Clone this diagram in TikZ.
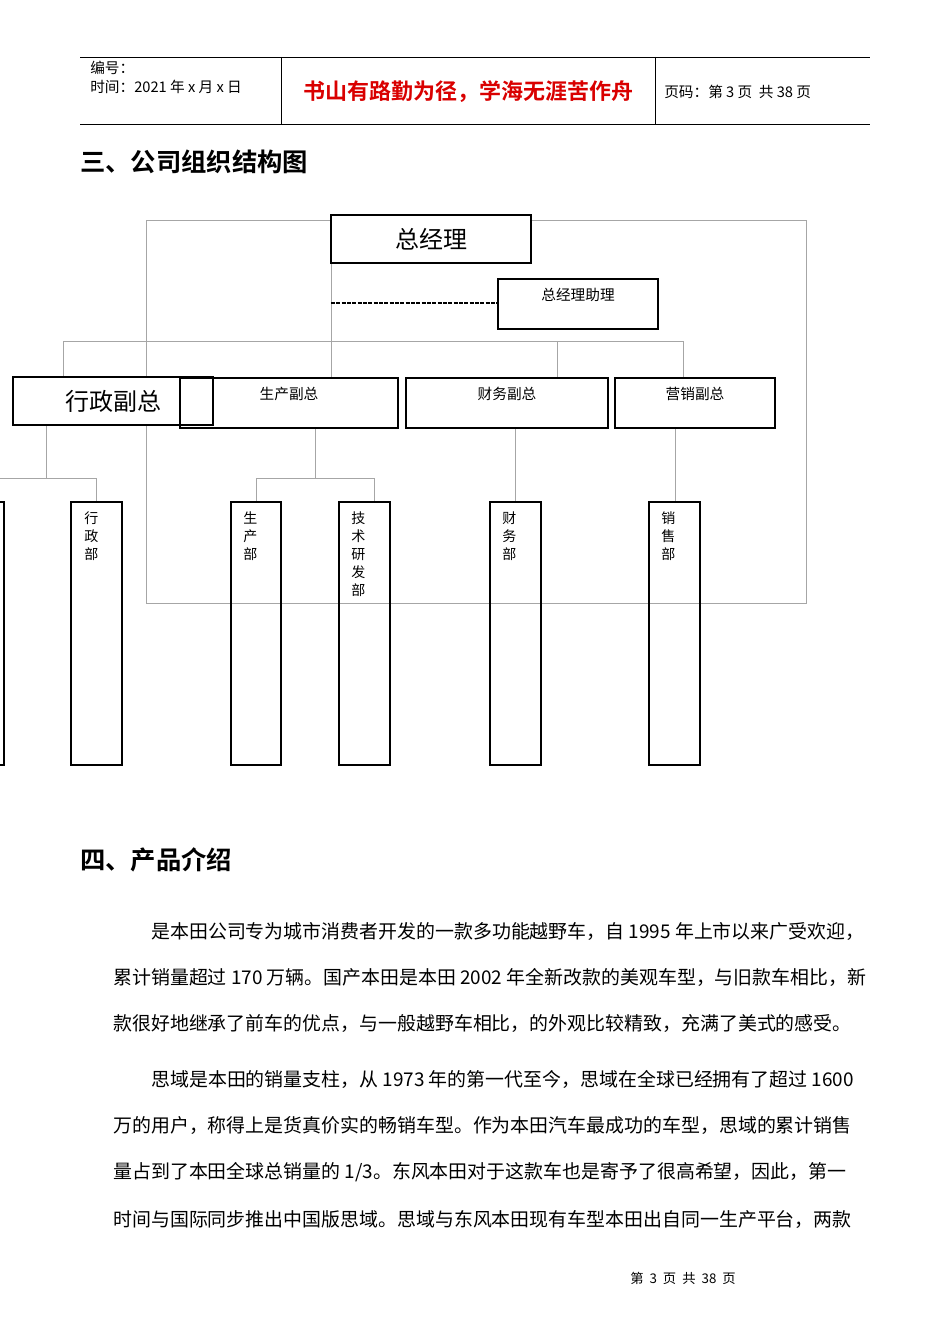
\documentclass[tikz,border=0pt]{standalone}
\usepackage{fontspec}
\setmainfont{Noto Sans CJK SC}
\newfontfamily\cjkb{Noto Sans CJK SC Bold}
\newcommand{\fsz}[1]{\fontsize{#1}{#1}\selectfont}
\begin{document}
\begin{tikzpicture}[x=0.75pt,y=-0.75pt,
  thick box/.style={draw,line width=1.9pt},
  gl/.style={draw=black!35,line width=0.5pt},
  vt/.style={anchor=north west,align=center,font=\fontsize{10.5pt}{13.5pt}\selectfont,inner sep=0pt}]
\useasboundingbox (0,0) rectangle (950,1344);
% header
\draw[line width=0.6pt] (80,57) -- (870,57) (80,124) -- (870,124) (281,57) -- (281,124) (655,57) -- (655,124);
\node[anchor=west,font=\fsz{11pt},inner sep=0pt] (h1) at (90,68) {编号：};
\node[anchor=west,font=\fsz{11pt},inner sep=0pt] (h2) at (90,87) {时间：2021 年 x 月 x 日};
\node[font=\cjkb\fsz{16.5pt},text=red!85!black,inner sep=0pt] (h3) at (468,92) {书山有路勤为径，学海无涯苦作舟};
\node[anchor=west,font=\fsz{11pt},inner sep=0pt] (h4) at (664,92) {页码：第 3 页\ \ 共 38 页};
\node[anchor=west,font=\cjkb\fsz{19pt},inner sep=0pt] (t1) at (80,162) {三、公司组织结构图};
% frame
\draw[gl] (146,220) rectangle (806,603);
% connectors
\draw[gl] (331,263) -- (331,378) (63,341) -- (683,341) (63,341) -- (63,378) (557,341) -- (557,378) (683,341) -- (683,378);
\draw[gl] (46,425) -- (46,478) (0,478) -- (96,478) (96,478) -- (96,502);
\draw[gl] (315,428) -- (315,478) (256,478) -- (374,478) (256,478) -- (256,502) (374,478) -- (374,502);
\draw[gl] (515,428) -- (515,502) (675,428) -- (675,502);
\draw[line width=2.2pt,dash pattern=on 3pt off 1pt] (331,303) -- (498,303);
% boxes
\draw[thick box,fill=white] (331,215) rectangle (531,263);
\node[font=\fsz{18pt}] (gm) at (431,239) {总经理};
\draw[thick box,fill=white] (498,279) rectangle (658,329);
\node[font=\fsz{11pt}] (as) at (578,295) {总经理助理};
\draw[thick box,fill=white] (13,377) rectangle (213,425);
\node[font=\fsz{18pt}] (xz) at (113,401) {行政副总};
\draw[thick box] (180,378) rectangle (398,428);
\node[font=\fsz{11pt}] (sc) at (289,394) {生产副总};
\draw[thick box] (406,378) rectangle (608,428);
\node[font=\fsz{11pt}] (cw) at (507,394) {财务副总};
\draw[thick box] (615,378) rectangle (775,428);
\node[font=\fsz{11pt}] (yx) at (695,394) {营销副总};
\draw[thick box] (-10,502) rectangle (4,765);
\draw[thick box] (71,502) rectangle (122,765);
\node[vt] (b1) at (84,511) {行\\政\\部};
\draw[thick box] (231,502) rectangle (281,765);
\node[vt] (b2) at (243,511) {生\\产\\部};
\draw[thick box] (339,502) rectangle (390,765);
\node[vt] (b3) at (351,511) {技\\术\\研\\发\\部};
\draw[thick box] (490,502) rectangle (541,765);
\node[vt] (b4) at (502,511) {财\\务\\部};
\draw[thick box] (649,502) rectangle (700,765);
\node[vt] (b5) at (661,511) {销\\售\\部};
% section 4
\node[anchor=west,font=\cjkb\fsz{19pt},inner sep=0pt] (t2) at (80,860) {四、产品介绍};
\begin{scope}[every node/.style={anchor=west,font=\fsz{14.2pt},inner sep=0pt}]
\node (p1) at (151,931) {是本田公司专为城市消费者开发的一款多功能越野车，自 1995 年上市以来广受欢迎，};
\node (p2) at (113,977) {累计销量超过 170 万辆。国产本田是本田 2002 年全新改款的美观车型，与旧款车相比，新};
\node (p3) at (113,1024) {款很好地继承了前车的优点，与一般越野车相比，的外观比较精致，充满了美式的感受。};
\node (p4) at (151,1079) {思域是本田的销量支柱，从 1973 年的第一代至今，思域在全球已经拥有了超过 1600};
\node (p5) at (113,1125) {万的用户，称得上是货真价实的畅销车型。作为本田汽车最成功的车型，思域的累计销售};
\node (p6) at (113,1172) {量占到了本田全球总销量的 1/3。东风本田对于这款车也是寄予了很高希望，因此，第一};
\node (p7) at (113,1219) {时间与国际同步推出中国版思域。思域与东风本田现有车型本田出自同一生产平台，两款};
\end{scope}
\node[font=\fsz{10pt},inner sep=0pt] (ft) at (683,1278) {第\ \ 3\ \ 页\ \ 共\ \ 38\ \ 页};
\end{tikzpicture}
\end{document}
